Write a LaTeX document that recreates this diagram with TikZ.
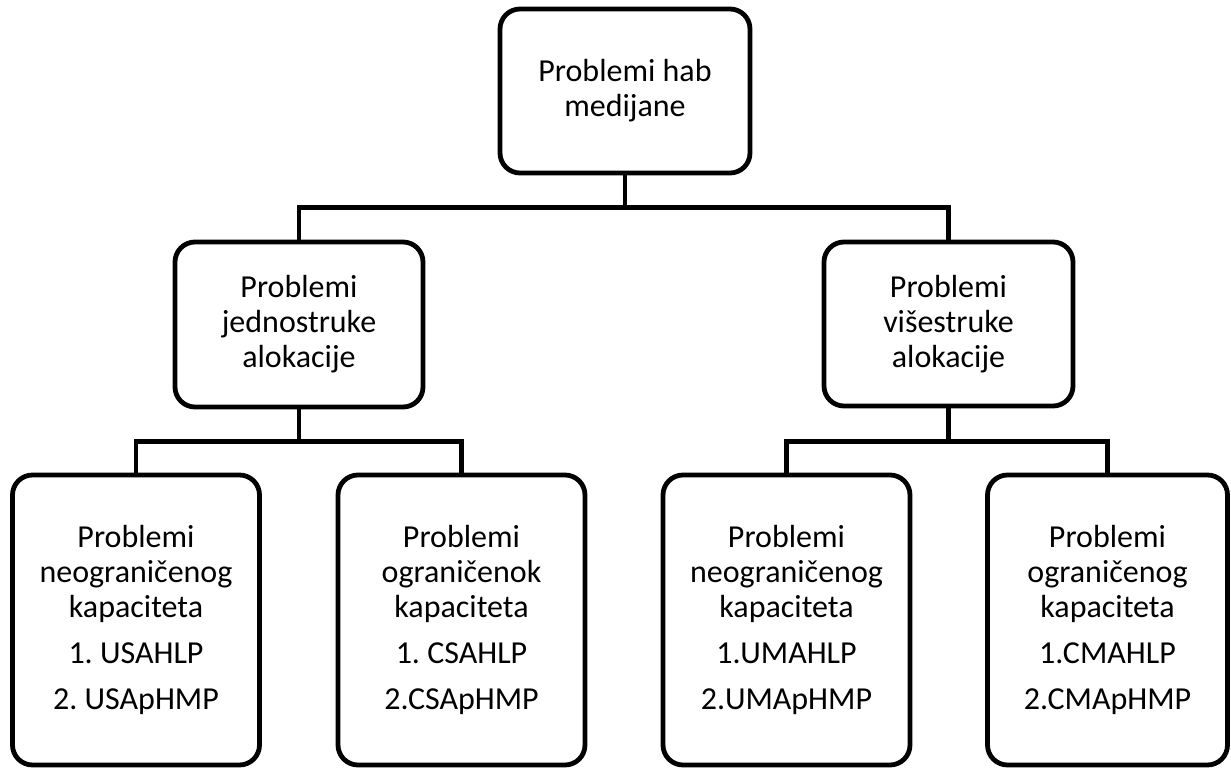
\documentclass[tikz,border=0pt]{standalone}
\usepackage{fontspec}
\setmainfont{Carlito}
\begin{document}
\frenchspacing
\begin{tikzpicture}[x=0.75pt,y=-0.75pt,
  box/.style={draw=black, line width=3.6pt, rounded corners=15pt, fill=white,
    align=center, inner sep=0pt, font=\fontsize{24}{26.3}\selectfont},
  link/.style={draw=black, line width=3.6pt}]
  \useasboundingbox (0,0) rectangle (1231,770);

  % root
  \node[box, minimum width=250*0.75pt, minimum height=164*0.75pt] (root) at (625,91)
    {Problemi hab\\medijane};

  % second level
  \node[box, minimum width=248*0.75pt, minimum height=165*0.75pt] (single) at (299,324.5)
    {Problemi\\jednostruke\\alokacije};
  \node[box, minimum width=249*0.75pt, minimum height=164*0.75pt] (multi) at (948.5,324)
    {Problemi\\višestruke\\alokacije};

  % third level
  \node[box, minimum width=247*0.75pt, minimum height=290*0.75pt] (usa) at (136,620)
    {Problemi\\neograničenog\\kapaciteta\\[8pt]1. USAHLP\\[8pt]2. USApHMP};
  \node[box, minimum width=247*0.75pt, minimum height=290*0.75pt] (csa) at (461.5,620)
    {Problemi\\ograničenok\\kapaciteta\\[8pt]1. CSAHLP\\[8pt]2.CSApHMP};
  \node[box, minimum width=247*0.75pt, minimum height=290*0.75pt] (uma) at (786.5,620)
    {Problemi\\neograničenog\\kapaciteta\\[8pt]1.UMAHLP\\[8pt]2.UMApHMP};
  \node[box, minimum width=240*0.75pt, minimum height=290*0.75pt] (cma) at (1107.5,620)
    {Problemi\\ograničenog\\kapaciteta\\[8pt]1.CMAHLP\\[8pt]2.CMApHMP};

  % bus levels
  \coordinate (bus1) at (0,207.5);
  \coordinate (bus2) at (0,441.5);

  % connectors
  \draw[link] (root.south) -- (root.south |- bus1);
  \draw[link] (single.north) |- (multi.north |- bus1) -- (multi.north);

  \draw[link] (single.south) -- (single.south |- bus2);
  \draw[link] (usa.north) |- (csa.north |- bus2) -- (csa.north);

  \draw[link] (multi.south) -- (multi.south |- bus2);
  \draw[link] (uma.north) |- (cma.north |- bus2) -- (cma.north);
\end{tikzpicture}
\end{document}
